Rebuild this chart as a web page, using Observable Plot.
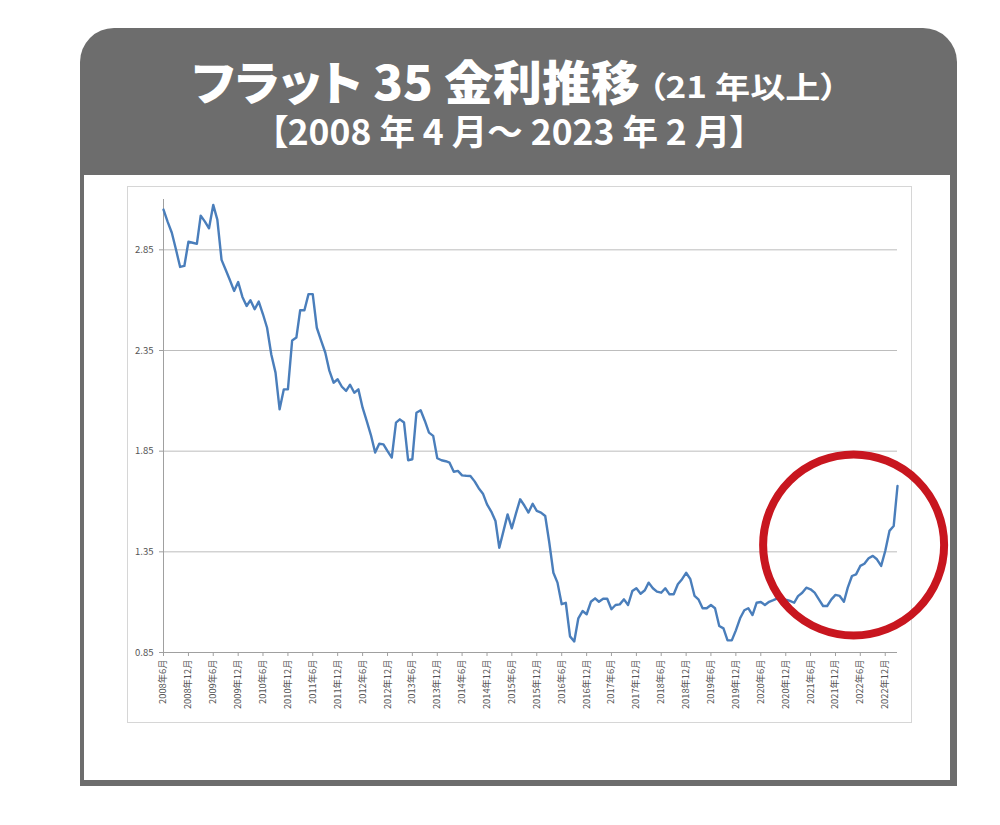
<!DOCTYPE html>
<html>
<head>
<meta charset="utf-8">
<script src="https://cdn.jsdelivr.net/npm/d3@7"></script>
<script src="https://cdn.jsdelivr.net/npm/@observablehq/plot@0.6"></script>
<style>
  html, body { margin: 0; padding: 0; background: #fff; }
  body { width: 1000px; height: 825px; position: relative; overflow: hidden; font-family: "Noto Sans CJK JP", sans-serif; }
  #frame { position: absolute; left: 80px; top: 28px; width: 877px; height: 758px; background: #6d6d6d; border-radius: 34px 34px 0 0; }
  #inner { position: absolute; left: 4px; top: 147px; width: 866px; height: 605px; background: #fff; }
  #box { position: absolute; left: 127px; top: 186px; width: 785px; height: 537px; border: 1px solid #d6d6d6; box-sizing: border-box; }
  #chart { position: absolute; left: 127px; top: 186px; }
  .ttl { position: absolute; color: #fff; white-space: nowrap; font-family: "Noto Sans CJK JP", sans-serif; font-feature-settings: "palt"; transform-origin: 0 0; }
</style>
</head>
<body>
<div id="frame"><div id="inner"></div></div>
<div class="ttl" id="t1" data-w="448" style="left:192px;top:56px;font-size:47px;line-height:47px;height:47px;font-weight:900;">フラット 35 金利推移</div>
<div class="ttl" id="t2" data-w="190" style="left:648px;top:70px;font-size:30px;line-height:30px;height:30px;font-weight:700;">（21 年以上）</div>
<div class="ttl" id="t3" data-w="478" style="left:270px;top:112px;font-size:35px;line-height:35px;height:35px;font-weight:700;">【2008 年 4 月～ 2023 年 2 月】</div>
<div id="box"></div>
<div id="chart"></div>
<script>
// Monthly Flat 35 rate (%), first value = 2008年6月 on the chart's axis
const firstYear = 2008;
const firstMonth = 6;
const rates = [
  3.05, 2.99, 2.935, 2.85, 2.765, 2.77, 2.89, 2.885, 2.88, 3.02,
  2.99, 2.957, 3.073, 3.00, 2.80, 2.75, 2.70, 2.646, 2.69, 2.616,
  2.571, 2.60, 2.555, 2.593, 2.53, 2.463, 2.33, 2.24, 2.058, 2.157,
  2.157, 2.40, 2.414, 2.55, 2.55, 2.63, 2.63, 2.463, 2.40, 2.34,
  2.25, 2.19, 2.207, 2.17, 2.149, 2.18, 2.14, 2.157, 2.066, 2.00,
  1.93, 1.843, 1.887, 1.884, 1.85, 1.818, 1.992, 2.008, 1.992, 1.805,
  1.81, 2.041, 2.053, 2.00, 1.942, 1.926, 1.815, 1.805, 1.80, 1.793,
  1.748, 1.752, 1.73, 1.728, 1.727, 1.70, 1.666, 1.639, 1.586, 1.55,
  1.503, 1.37, 1.454, 1.536, 1.467, 1.54, 1.611, 1.58, 1.545, 1.589,
  1.553, 1.545, 1.528, 1.40, 1.246, 1.197, 1.09, 1.097, 0.93, 0.905,
  1.02, 1.056, 1.04, 1.102, 1.119, 1.102, 1.117, 1.117, 1.065, 1.086,
  1.089, 1.114, 1.086, 1.155, 1.169, 1.142, 1.159, 1.197, 1.169, 1.152,
  1.147, 1.169, 1.139, 1.139, 1.189, 1.214, 1.246, 1.214, 1.131, 1.114,
  1.07, 1.07, 1.086, 1.07, 0.982, 0.97, 0.91, 0.91, 0.96, 1.02,
  1.06, 1.07, 1.036, 1.097, 1.101, 1.086, 1.102, 1.11, 1.119, 1.119,
  1.112, 1.106, 1.097, 1.13, 1.147, 1.172, 1.164, 1.147, 1.114, 1.081,
  1.081, 1.114, 1.136, 1.131, 1.102, 1.172, 1.23, 1.238, 1.28, 1.291,
  1.318, 1.33, 1.313, 1.28, 1.354, 1.454, 1.478, 1.677
];
const yTicks = [0.85, 1.35, 1.85, 2.35, 2.85];
const xTickLabels = [
  "2008年6月","2008年12月","2009年6月","2009年12月","2010年6月","2010年12月",
  "2011年6月","2011年12月","2012年6月","2012年12月","2013年6月","2013年12月",
  "2014年6月","2014年12月","2015年6月","2015年12月","2016年6月","2016年12月",
  "2017年6月","2017年12月","2018年6月","2018年12月","2019年6月","2019年12月",
  "2020年6月","2020年12月","2021年6月","2021年12月","2022年6月","2022年12月"
];
// highlighted region (red circle) centre
const highlight = [{date: "2022-04-13", rate: 1.384}];

// fit title lines horizontally to the reference widths
document.querySelectorAll(".ttl").forEach(el => {
  const w = el.getBoundingClientRect().width;
  el.style.transform = `scaleX(${(+el.dataset.w / w).toFixed(4)})`;
});

const months = rates.map((_, i) => new Date(Date.UTC(firstYear, firstMonth - 1 + i, 1)));
const data = rates.map((r, i) => ({month: months[i], rate: r}));
const parseLabel = s => { const [y, m] = s.match(/\d+/g).map(Number); return new Date(Date.UTC(y, m - 1, 1)); };
const xTicks = xTickLabels.map(parseLabel);
const fmt = d => `${d.getUTCFullYear()}年${d.getUTCMonth() + 1}月`;

const chart = Plot.plot({
  width: 823,
  height: 537,
  marginLeft: 36,
  marginRight: 53,
  marginTop: 13,
  marginBottom: 71,
  style: {background: "transparent", overflow: "visible", fontFamily: "'Noto Sans CJK JP', sans-serif", fontSize: "9px", color: "#555"},
  x: {type: "utc", domain: [months[0], months[months.length - 1]], label: null},
  y: {domain: [0.85, 3.1], label: null},
  marks: [
    Plot.ruleY(yTicks.slice(1), {stroke: "#bdbdbd", strokeWidth: 1}),
    Plot.ruleY([0.85], {stroke: "#a0a0a0", strokeWidth: 1}),
    Plot.ruleX([months[0]], {y1: 0.85, y2: 3.1, stroke: "#a0a0a0", strokeWidth: 1}),
    Plot.axisY({ticks: yTicks, tickFormat: d => d.toFixed(2), tickSize: 4, tickPadding: 6, stroke: "#a0a0a0", fill: "#555", fontSize: 9.5}),
    Plot.axisX({ticks: xTicks, tickFormat: fmt, tickRotate: -90, tickSize: 4, tickPadding: 3, stroke: "#a0a0a0", fill: "#555", fontSize: 9.3}),
    Plot.line(data, {x: "month", y: "rate", stroke: "#4a7ebb", strokeWidth: 2.4, strokeLinejoin: "round"}),
    Plot.dot(highlight, {x: d => new Date(d.date), y: "rate", r: 90.5, stroke: "#c8161f", strokeWidth: 8, fill: "none"})
  ]
});
document.getElementById("chart").appendChild(chart);
</script>
</body>
</html>
